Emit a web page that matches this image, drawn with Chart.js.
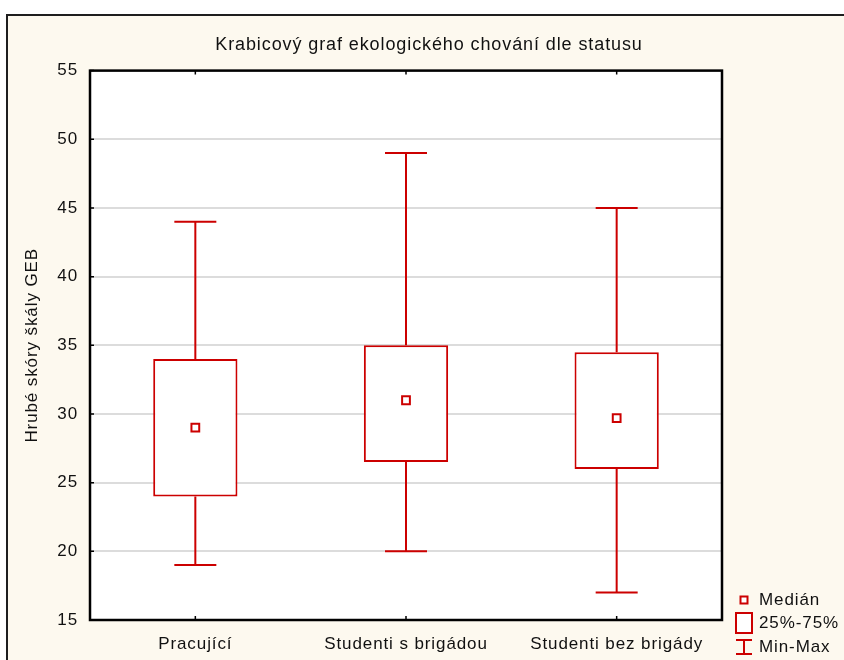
<!DOCTYPE html>
<html lang="cs">
<head>
<meta charset="utf-8">
<title>Krabicový graf ekologického chování dle statusu</title>
<script src="https://cdn.jsdelivr.net/npm/chart.js@4.4.1/dist/chart.umd.min.js"></script>
<style>
    html, body { margin: 0; padding: 0; background: #ffffff; overflow: hidden; }
    .wrap { position: relative; width: 844px; height: 660px; overflow: hidden; }
    .frame {
        position: absolute; left: 6px; top: 14px; width: 900px; height: 700px;
        border: 2px solid #1e1e1e; background: #fdf9ef; box-sizing: border-box;
    }
    canvas { position: absolute; left: 0; top: 0; }
    .legend {
        position: absolute; left: 735px; top: 588px;
        font-family: "Liberation Sans", Arial, sans-serif; font-size: 17px; color: #111;
        letter-spacing: 0.9px;
    }
    .legend .row { display: flex; align-items: center; height: 23.5px; }
    .legend .icon { width: 18px; display: flex; justify-content: center; align-items: center; margin-right: 6px; }
</style>
</head>
<body>
<div class="wrap">
    <div class="frame"></div>
    <canvas id="boxChart" width="844" height="660"></canvas>
    <div class="legend">
        <div class="row">
            <div class="icon"><svg width="10" height="10"><rect x="1.5" y="1.5" width="7" height="7" fill="#fff" stroke="#cc0000" stroke-width="2"/></svg></div>
            <span>Medián</span>
        </div>
        <div class="row">
            <div class="icon"><svg width="18" height="22"><rect x="1" y="1" width="16" height="20" fill="#fff" stroke="#cc0000" stroke-width="2"/></svg></div>
            <span>25%-75%</span>
        </div>
        <div class="row">
            <div class="icon"><svg width="18" height="16"><path d="M1 1 H17 M9 1 V15 M1 15 H17" fill="none" stroke="#cc0000" stroke-width="2"/></svg></div>
            <span>Min-Max</span>
        </div>
    </div>
</div>
<script>
const categories = ['Pracující', 'Studenti s brigádou', 'Studenti bez brigády'];
const minValues = [19, 20, 17];
const q1Values = [24, 26.5, 26];
const medianValues = [29, 31, 29.7];
const q3Values = [34, 35, 34.5];
const maxValues = [44, 49, 45];
const yTicks = [15, 20, 25, 30, 35, 40, 45, 50, 55];

const RED = '#cc0000';
const FONT = '"Liberation Sans", Arial, sans-serif';

// white plot area, whiskers, frame and small inner ticks
const boxExtras = {
    id: 'boxExtras',
    beforeDatasetsDraw(chart) {
        const {ctx, scales} = chart;
        ctx.save();
        ctx.strokeStyle = RED;
        ctx.lineWidth = 2;
        categories.forEach((c, i) => {
            const x = scales.x.getPixelForValue(i);
            const yMin = scales.y.getPixelForValue(minValues[i]);
            const yMax = scales.y.getPixelForValue(maxValues[i]);
            const yQ1 = scales.y.getPixelForValue(q1Values[i]);
            const yQ3 = scales.y.getPixelForValue(q3Values[i]);
            ctx.beginPath();
            ctx.moveTo(x, yQ1); ctx.lineTo(x, yMin);
            ctx.moveTo(x, yQ3); ctx.lineTo(x, yMax);
            ctx.moveTo(x - 21, yMin); ctx.lineTo(x + 21, yMin);
            ctx.moveTo(x - 21, yMax); ctx.lineTo(x + 21, yMax);
            ctx.stroke();
        });
        ctx.restore();
    },
    beforeUpdate(chart) {
        chart.ctx.letterSpacing = '0.9px';
    },
    beforeDraw(chart) {
        const {ctx, chartArea} = chart;
        ctx.letterSpacing = '0.9px';
        ctx.save();
        ctx.fillStyle = '#ffffff';
        ctx.fillRect(chartArea.left, chartArea.top, chartArea.right - chartArea.left, chartArea.bottom - chartArea.top);
        ctx.restore();
    },
    afterDraw(chart) {
        const {ctx, chartArea, scales} = chart;
        ctx.save();
        ctx.strokeStyle = '#000';
        ctx.lineWidth = 1.5;
        ctx.beginPath();
        yTicks.forEach(v => {
            const y = scales.y.getPixelForValue(v);
            ctx.moveTo(chartArea.left, y); ctx.lineTo(chartArea.left + 4, y);
        });
        categories.forEach((c, i) => {
            const x = scales.x.getPixelForValue(i);
            ctx.moveTo(x, chartArea.top); ctx.lineTo(x, chartArea.top + 4);
            ctx.moveTo(x, chartArea.bottom); ctx.lineTo(x, chartArea.bottom - 4);
        });
        ctx.stroke();
        ctx.lineWidth = 2.5;
        ctx.strokeRect(chartArea.left, chartArea.top, chartArea.right - chartArea.left, chartArea.bottom - chartArea.top);
        ctx.restore();
    }
};

new Chart(document.getElementById('boxChart'), {
    data: {
        labels: categories,
        datasets: [
            {
                type: 'line',
                label: 'Medián',
                data: medianValues,
                showLine: false,
                pointStyle: 'rect',
                pointRadius: 5.5,
                pointHoverRadius: 5.5,
                pointBorderWidth: 2,
                pointBorderColor: RED,
                pointBackgroundColor: '#ffffff',
                order: 0
            },
            {
                type: 'bar',
                label: '25%-75%',
                data: categories.map((c, i) => [q1Values[i], q3Values[i]]),
                backgroundColor: '#ffffff',
                borderColor: RED,
                borderWidth: 2,
                borderSkipped: false,
                barPercentage: 0.4,
                categoryPercentage: 1,
                order: 1
            }
        ]
    },
    options: {
        responsive: false,
        animation: false,
        layout: {padding: {left: 14, right: 0, top: 14, bottom: 0}},
        scales: {
            x: {
                type: 'category',
                grid: {display: false},
                border: {display: false},
                ticks: {color: '#111', padding: 6, font: {family: FONT, size: 17}},
                afterFit(scale) { scale.height = 40; }
            },
            y: {
                min: 15,
                max: 55,
                afterBuildTicks(scale) { scale.ticks = yTicks.map(v => ({value: v})); },
                grid: {color: '#dcdcdc', lineWidth: 2, drawTicks: false},
                border: {display: false},
                ticks: {color: '#111', padding: 12, font: {family: FONT, size: 17}},
                title: {
                    display: true,
                    text: 'Hrubé skóry škály GEB',
                    color: '#111',
                    padding: {top: 8, bottom: 0},
                    font: {family: FONT, size: 17}
                },
                afterFit(scale) { scale.width = 76; }
            },
            // empty right-hand strip that holds the legend
            side: {
                type: 'linear',
                position: 'right',
                grid: {display: false},
                border: {display: false},
                ticks: {display: false},
                afterFit(scale) { scale.width = 122; }
            }
        },
        plugins: {
            legend: {display: false},
            tooltip: {enabled: false},
            title: {
                display: true,
                text: 'Krabicový graf ekologického chování dle statusu',
                color: '#111',
                padding: {top: 20, bottom: 15},
                font: {family: FONT, size: 18, weight: 'normal'}
            }
        }
    },
    plugins: [boxExtras]
});
</script>
</body>
</html>
